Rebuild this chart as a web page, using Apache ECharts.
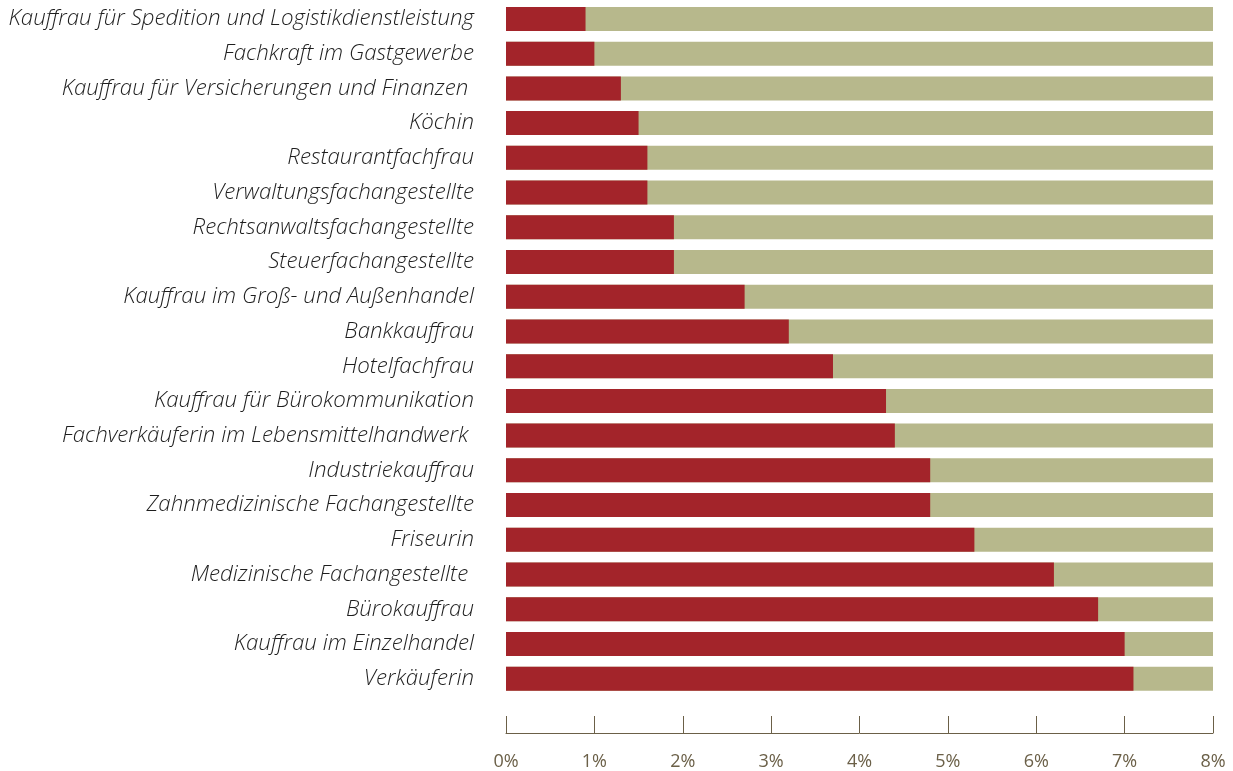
<!DOCTYPE html>
<html><head><meta charset="utf-8">
<script src="https://cdn.jsdelivr.net/npm/echarts@6/dist/echarts.min.js"></script>
<style>html,body{margin:0;padding:0;background:#fff}#c{width:1233px;height:771px}</style>
</head><body><div id="c"></div>
<script>
const categories = [
  "Kauffrau für Spedition und Logistikdienstleistung",
  "Fachkraft im Gastgewerbe",
  "Kauffrau für Versicherungen und Finanzen ",
  "Köchin",
  "Restaurantfachfrau",
  "Verwaltungsfachangestellte",
  "Rechtsanwaltsfachangestellte",
  "Steuerfachangestellte",
  "Kauffrau im Groß- und Außenhandel",
  "Bankkauffrau",
  "Hotelfachfrau",
  "Kauffrau für Bürokommunikation",
  "Fachverkäuferin im Lebensmittelhandwerk ",
  "Industriekauffrau",
  "Zahnmedizinische Fachangestellte",
  "Friseurin",
  "Medizinische Fachangestellte ",
  "Bürokauffrau",
  "Kauffrau im Einzelhandel",
  "Verkäuferin"
];
const values = [0.9, 1.0, 1.3, 1.5, 1.6, 1.6, 1.9, 1.9, 2.7, 3.2, 3.7, 4.3, 4.4, 4.8, 4.8, 5.3, 6.2, 6.7, 7.0, 7.1];
const tickLabels = ["0%", "1%", "2%", "3%", "4%", "5%", "6%", "7%", "8%"];

const chart = echarts.init(document.getElementById('c'), null, {renderer: 'canvas'});
chart.setOption({
  animation: false,
  grid: {left: 506, right: 20, top: 1.6, bottom: 74.6, containLabel: false},
  xAxis: {
    type: 'value', min: 0, max: 8, interval: 1, offset: 37,
    axisLine: {show: true, lineStyle: {color: '#6b6048', width: 1}},
    axisTick: {show: true, inside: true, length: 17, lineStyle: {color: '#6b6048', width: 1}},
    splitLine: {show: false},
    axisLabel: {
      formatter: (v) => tickLabels[v], color: '#6b6048',
      fontFamily: 'Open Sans', fontSize: 18, margin: 20
    }
  },
  yAxis: {
    type: 'category', data: categories, inverse: true,
    axisLine: {show: false}, axisTick: {show: false},
    axisLabel: {
      color: '#1e1e1e', fontFamily: 'Open Sans', fontStyle: 'italic', fontWeight: 300,
      fontSize: 22.3, margin: 32
    }
  },
  series: [{
    type: 'bar', data: values, barWidth: 24,
    itemStyle: {color: '#a3242a'},
    showBackground: true,
    backgroundStyle: {color: '#b7b88c'}
  }]
});
</script></body></html>
